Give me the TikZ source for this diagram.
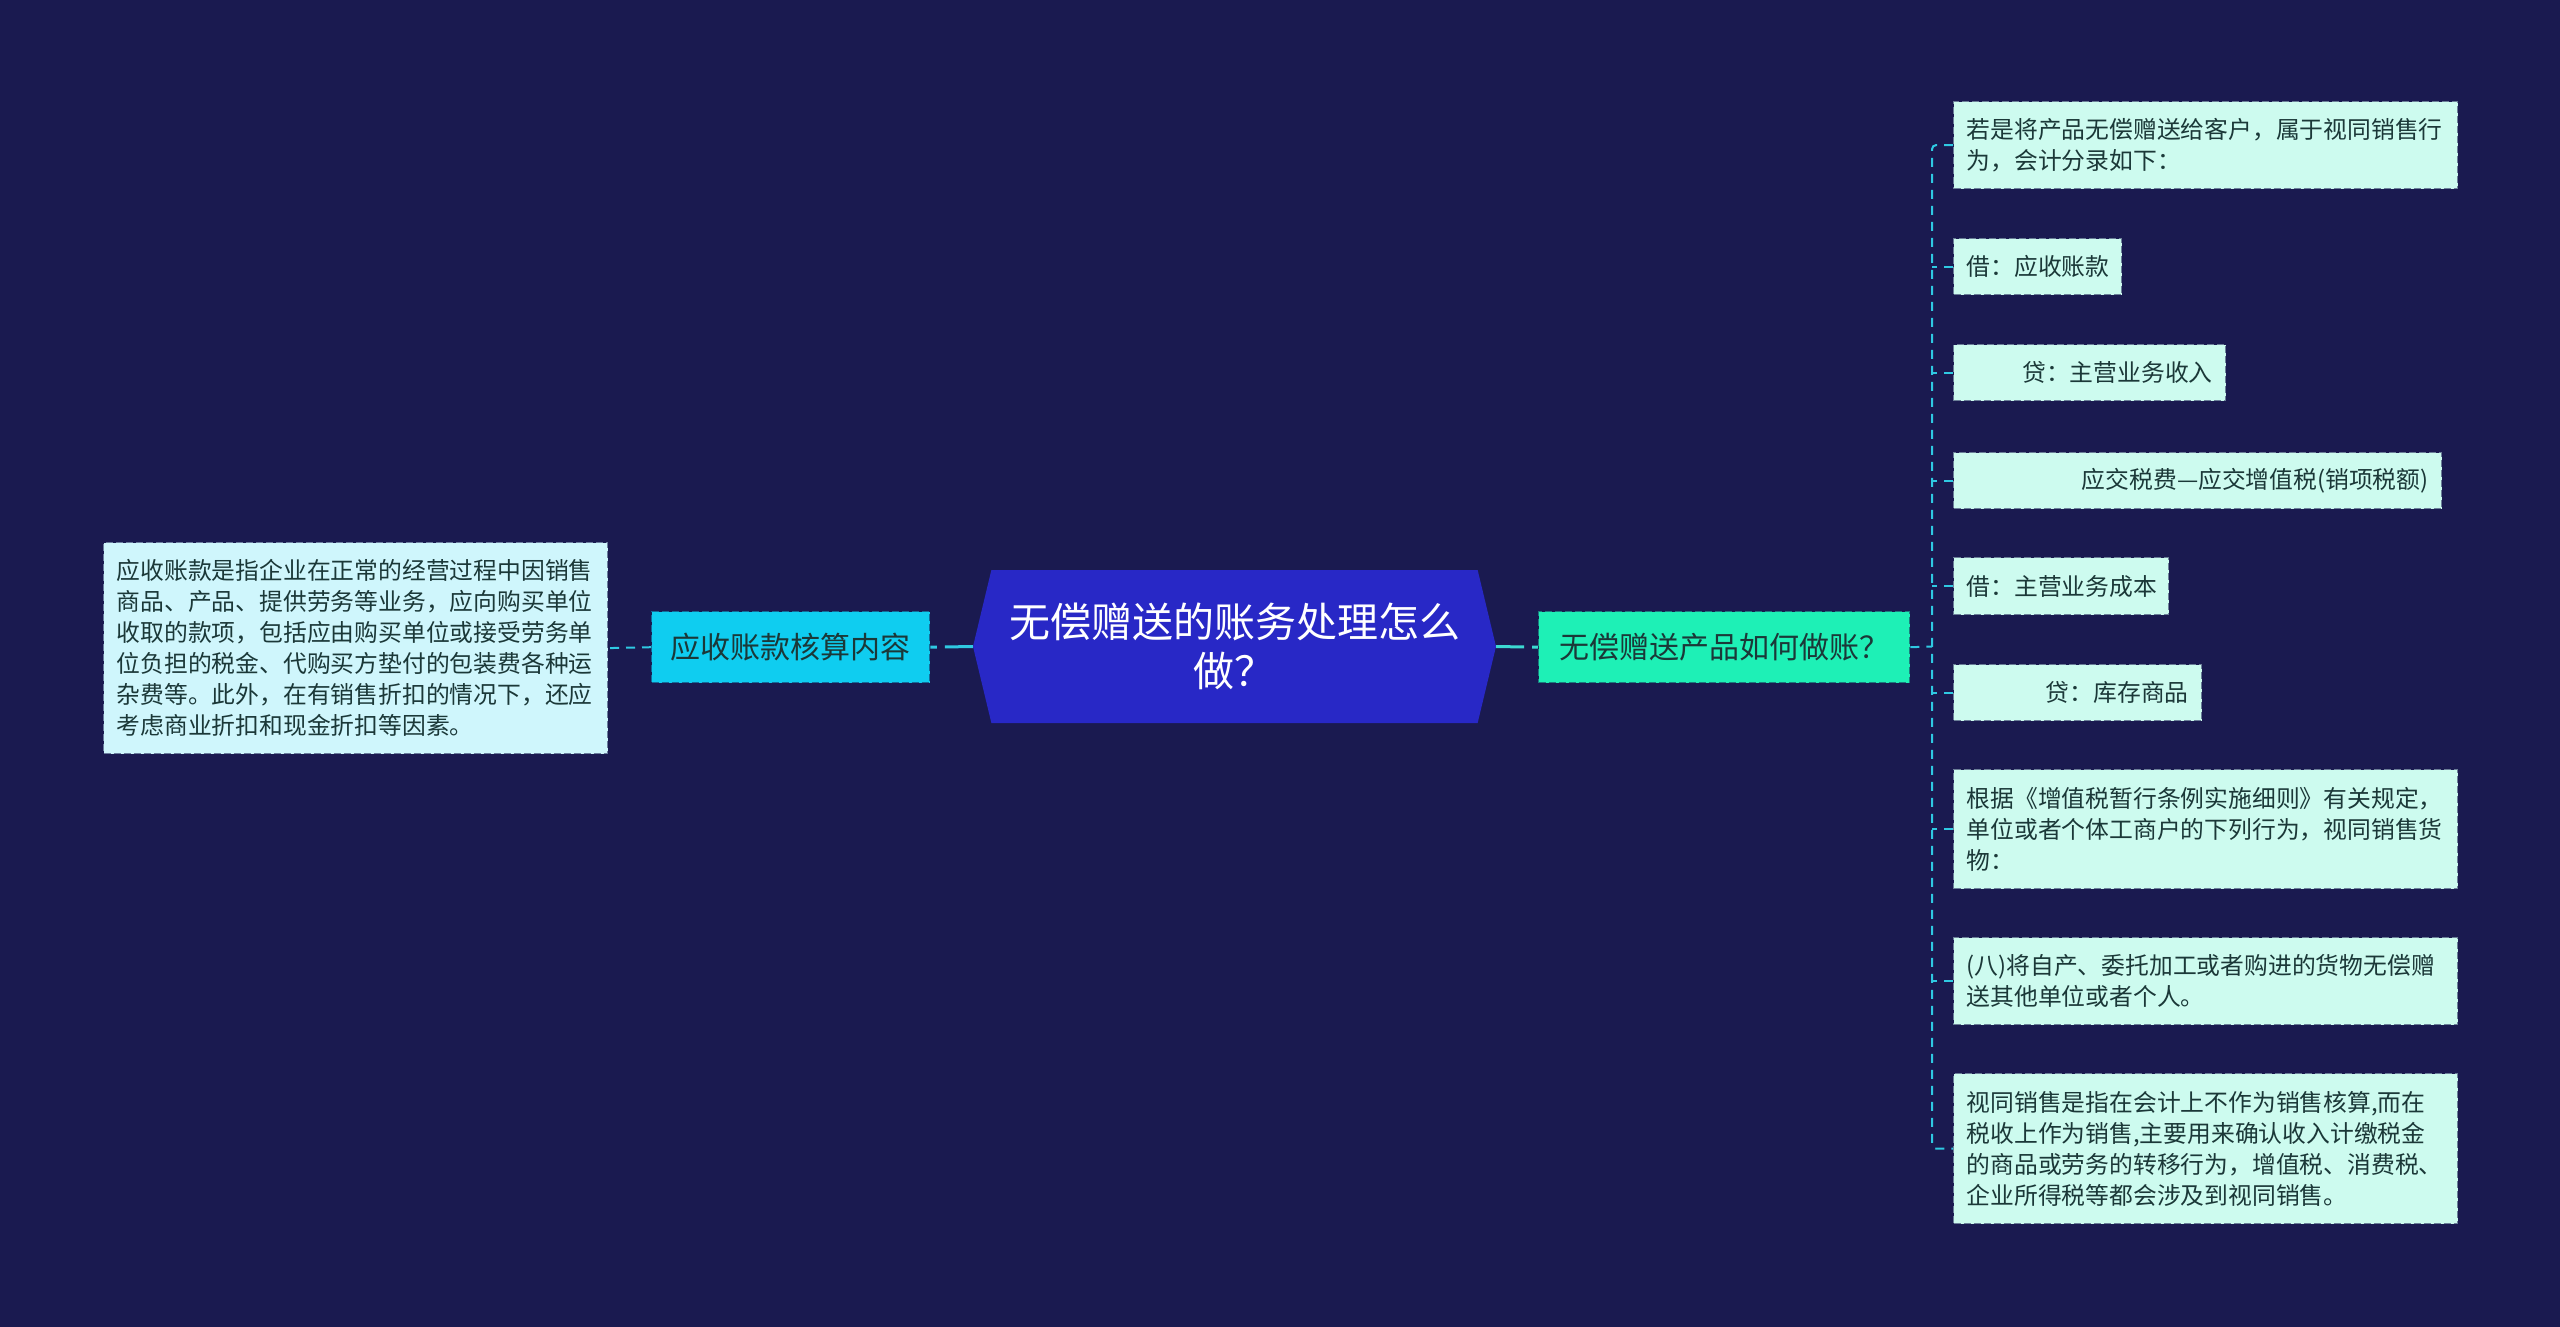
\documentclass[tikz,border=0pt]{standalone}
\usepackage{fontspec}
\setmainfont{Noto Sans CJK SC}
\usepackage{tikz}
\usetikzlibrary{shapes.symbols,positioning}
\definecolor{night}{HTML}{1A1A50}
\definecolor{hubblue}{HTML}{2828C6}
\definecolor{cyanmid}{HTML}{0FCDF0}
\definecolor{mintmid}{HTML}{1EF0B6}
\definecolor{cyanleaf}{HTML}{CFF6FC}
\definecolor{mintleaf}{HTML}{CDFBEF}
\definecolor{leafink}{HTML}{1B3838}
\definecolor{wire}{HTML}{2FC9E2}
\definecolor{wiremint}{HTML}{3CD9D2}
\newcommand{\leaffont}{\fontsize{23.8}{31}\selectfont}
\newcommand{\midfont}{\fontsize{30}{36}\selectfont}
\newcommand{\hubfont}{\fontsize{41}{49}\selectfont}
\tikzset{
  hub/.style={
    signal, signal to=west and east, signal pointer angle=153,
    fill=hubblue, text=white, align=center, font=\hubfont,
    minimum width=523pt, minimum height=153pt, inner sep=0pt
  },
  midbox/.style={
    anchor=north west, line width=1.4pt, dash pattern=on 7pt off 3pt,
    text=leafink, font=\midfont, inner xsep=0pt, inner ysep=0pt,
    minimum height=71pt, align=center
  },
  accbox/.style={midbox, fill=cyanmid, draw=cyanmid!45!night},
  giftbox/.style={midbox, fill=mintmid, draw=mintmid!45!night},
  leaf/.style={
    anchor=north west, line width=1.2pt, dash pattern=on 7pt off 3pt,
    text=leafink, font=\leaffont, inner xsep=13pt, inner ysep=0pt,
    align=left
  },
  cyanleafbox/.style={leaf, fill=cyanleaf, draw=cyanleaf!45!night},
  mintleafbox/.style={leaf, fill=mintleaf, draw=mintleaf!45!night},
  mainlink/.style={line width=3pt, dash pattern=on 28pt off 8pt},
  leaflink/.style={line width=2pt, draw=wire, dash pattern=on 9pt off 7pt}
}

\begin{document}
\begin{tikzpicture}[x=1pt,y=-1pt]
  \useasboundingbox (0,0) rectangle (2560,1326);
  \fill[night] (-4,-4) rectangle (2564,1330);

  % root
  \node[hub] (hub) at (1234.5,646.5) {无偿赠送的账务处理怎么\\做？};

  % left branch
  \node[accbox, minimum width=278pt] (acc) at (651,611) {应收账款核算内容};
  \node[cyanleafbox, text width=478pt, minimum height=211pt] (accnote) at (103,542)
    {应收账款是指企业在正常的经营过程中因销售\\商品、产品、提供劳务等业务，应向购买单位\\收取的款项，包括应由购买单位或接受劳务单\\位负担的税金、代购买方垫付的包装费各种运\\杂费等。此外，在有销售折扣的情况下，还应\\考虑商业折扣和现金折扣等因素。};

  % right branch
  \node[giftbox, minimum width=371pt] (gift) at (1538,611) {无偿赠送产品如何做账？};
  \node[mintleafbox, text width=478pt, minimum height=87pt] (g1) at (1953,101)
    {若是将产品无偿赠送给客户，属于视同销售行\\为，会计分录如下：};
  \node[mintleafbox, text width=142pt, minimum height=56pt] (g2) at (1953,238) {借：应收账款};
  \node[mintleafbox, text width=246pt, minimum height=56pt, align=right] (g3) at (1953,344) {贷：主营业务收入};
  \node[mintleafbox, text width=462pt, minimum height=56pt, align=right] (g4) at (1953,452) {应交税费—应交增值税(销项税额)};
  \node[mintleafbox, text width=189pt, minimum height=57pt] (g5) at (1953,557) {借：主营业务成本};
  \node[mintleafbox, text width=222pt, minimum height=56pt, align=right] (g6) at (1953,664) {贷：库存商品};
  \node[mintleafbox, text width=478pt, minimum height=119pt] (g7) at (1953,769)
    {根据《增值税暂行条例实施细则》有关规定，\\单位或者个体工商户的下列行为，视同销售货\\物：};
  \node[mintleafbox, text width=478pt, minimum height=87pt] (g8) at (1953,937)
    {(八)将自产、委托加工或者购进的货物无偿赠\\送其他单位或者个人。};
  \node[mintleafbox, text width=478pt, minimum height=150pt] (g9) at (1953,1073)
    {视同销售是指在会计上不作为销售核算,而在\\税收上作为销售,主要用来确认收入计缴税金\\的商品或劳务的转移行为，增值税、消费税、\\企业所得税等都会涉及到视同销售。};

  % connectors
  \draw[mainlink, draw=wire] (hub.west) -- (acc.east);
  \draw[mainlink, draw=wiremint] (hub.east) -- (gift.west);
  \draw[leaflink] (acc.west) -- (accnote.east);

  \coordinate (br) at (1932,646.5);
  \draw[leaflink] (gift.east) -- (br);
  \draw[leaflink, rounded corners=4pt] (g1.west) -- (g1.west -| br) -- (g9.west -| br) -- (g9.west);
  \foreach \i in {2,...,8}
    \draw[leaflink] (g\i.west) -- (g\i.west -| br);
\end{tikzpicture}
\end{document}
